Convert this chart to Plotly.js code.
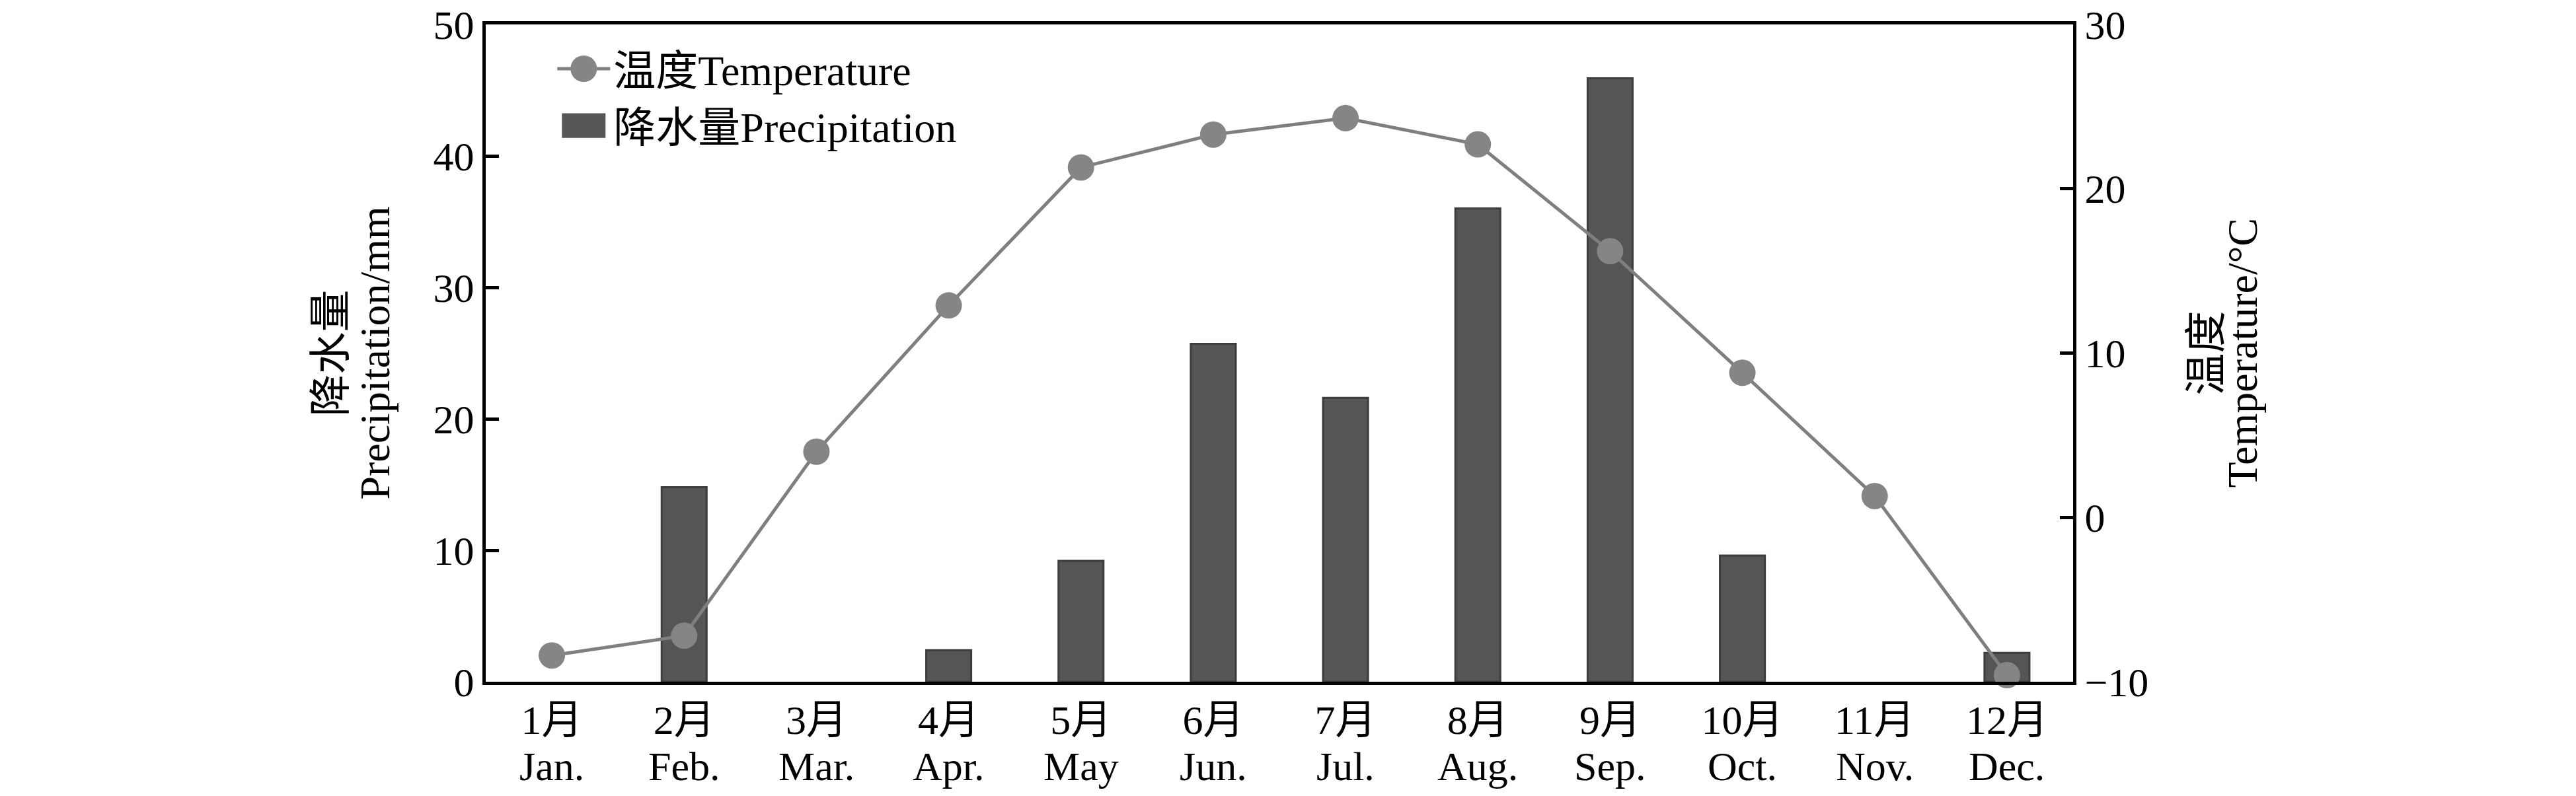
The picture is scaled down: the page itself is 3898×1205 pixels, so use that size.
<!DOCTYPE html>
<html>
<head>
<meta charset="utf-8">
<script src="https://cdn.plot.ly/plotly-3.0.1.min.js"></script>
<style>
  html, body { margin: 0; padding: 0; background: #fff; }
  #chart { width: 3898px; height: 1205px; }
</style>
</head>
<body>
<div id="chart"></div>
<script>
var monthsCn = ['1月', '2月', '3月', '4月', '5月', '6月', '7月', '8月', '9月', '10月', '11月', '12月'];
var monthsEn = ['Jan.', 'Feb.', 'Mar.', 'Apr.', 'May', 'Jun.', 'Jul.', 'Aug.', 'Sep.', 'Oct.', 'Nov.', 'Dec.'];
var precipitation = [0, 14.8, 0, 2.4, 9.2, 25.7, 21.6, 36.0, 45.9, 9.6, 0, 2.2];
var temperature = [-8.4, -7.2, 4.0, 12.9, 21.3, 23.3, 24.3, 22.7, 16.2, 8.8, 1.3, -9.6];

var serif = "'Liberation Serif', 'Times New Roman', 'Noto Sans CJK SC', serif";

chart = document.getElementById("chart");

var data = [
  {
    x: monthsEn,
    y: temperature,
    yaxis: 'y2',
    type: 'scatter',
    mode: 'lines+markers',
    name: '温度Temperature',
    line: {color: '#7f7f7f', width: 5},
    marker: {color: '#858585', size: 40},
    cliponaxis: false
  },
  {
    x: monthsEn,
    y: precipitation,
    type: 'bar',
    name: '降水量Precipitation',
    width: 0.34,
    marker: {
      color: '#555555',
      // no outline on empty months, otherwise a stub shows on the axis
      line: {color: '#3d3d3d', width: precipitation.map(function (v) { return v > 0 ? 3 : 0; })}
    }
  }
];

// English month names sit under the Chinese tick labels
var annotations = monthsEn.map(function (m) {
  return {
    x: m, xref: 'x', y: -0.129, yref: 'paper',
    text: m, showarrow: false, xanchor: 'center', yanchor: 'middle',
    font: {family: serif, size: 62, color: '#000'}
  };
});

var titleFont = {family: serif, size: 64, color: '#000'};
function sideTitle(x, text) {
  return {x: x, xref: 'paper', y: 0.5, yref: 'paper', text: text, textangle: -90,
          showarrow: false, xanchor: 'center', yanchor: 'middle', font: titleFont};
}
annotations.push(
  sideTitle(-0.0978, '降水量'),
  sideTitle(-0.0699, 'Precipitation/mm'),
  sideTitle(1.0837, '温度'),
  sideTitle(1.1066, 'Temperature/°C')
);

var layout = {
  width: 3898,
  height: 1205,
  margin: {l: 735, r: 761, t: 37, b: 173, pad: 0},
  paper_bgcolor: '#fff',
  plot_bgcolor: '#fff',
  font: {family: serif, size: 62, color: '#000'},
  showlegend: true,
  legend: {
    x: 0.043, y: 0.981, xanchor: 'left', yanchor: 'top',
    bgcolor: 'rgba(0,0,0,0)',
    font: {family: serif, size: 64, color: '#000'},
    itemwidth: 80,
    tracegroupgap: 0
  },
  xaxis: {
    type: 'category',
    range: [-0.5, 11.5],
    tickvals: monthsEn,
    ticktext: monthsCn,
    showline: true, linecolor: '#000', linewidth: 5, mirror: true,
    ticks: '', showgrid: false, zeroline: false,
    tickfont: {family: serif, size: 62, color: '#000'}
  },
  yaxis: {
    range: [0, 50], dtick: 10,
    showline: true, linecolor: '#000', linewidth: 5,
    ticks: 'inside', ticklen: 20, tickwidth: 5, tickcolor: '#000',
    showgrid: false, zeroline: false,
    tickfont: {family: serif, size: 62, color: '#000'}
  },
  yaxis2: {
    overlaying: 'y', side: 'right',
    range: [-10, 30], dtick: 10,
    showline: true, linecolor: '#000', linewidth: 5,
    ticks: 'inside', ticklen: 20, tickwidth: 5, tickcolor: '#000',
    showgrid: false, zeroline: false,
    tickfont: {family: serif, size: 62, color: '#000'}
  },
  annotations: annotations
};

Plotly.newPlot(chart, data, layout, {staticPlot: true}).then(function () {
  // plotly caps legend symbols at 16px, the figure uses bigger ones
  var items = chart.querySelectorAll('.legend .traces');
  var scales = ['scale(2.5)', 'scale(5.5,3.1)'];
  items.forEach(function (item, i) {
    item.querySelectorAll('.legendpoints path').forEach(function (p) {
      var t = p.getAttribute('transform') || '';
      p.setAttribute('transform', t + ' ' + scales[i]);
      p.setAttribute('vector-effect', 'non-scaling-stroke');
    });
  });
});
</script>
</body>
</html>
